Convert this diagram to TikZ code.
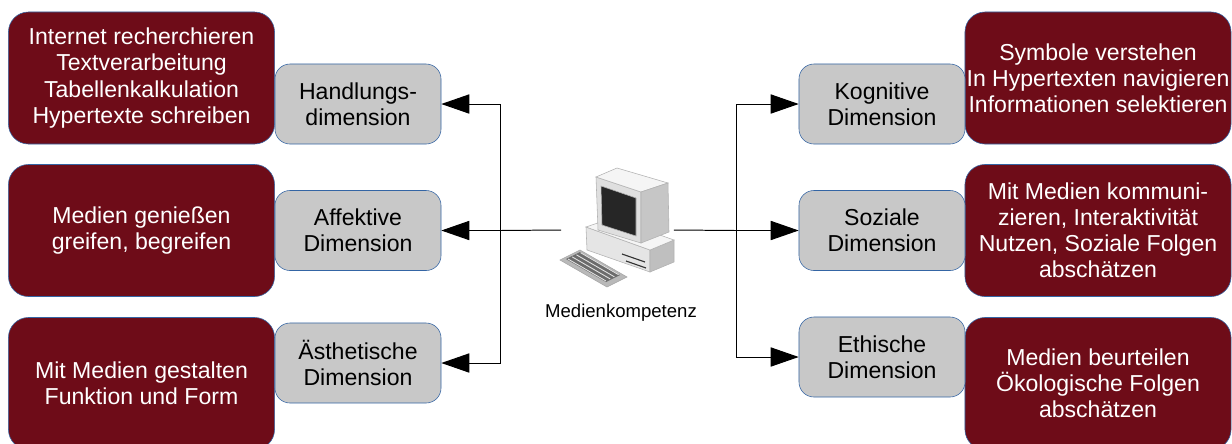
\documentclass[tikz,border=0pt]{standalone}
\usepackage{fontspec}
\setmainfont{Liberation Sans}
\usepackage{tikz}
\usetikzlibrary{positioning,calc,arrows.meta}
\definecolor{weinrot}{HTML}{6E0C18}
\definecolor{hellgrau}{HTML}{C8C8C8}
\definecolor{rahmen}{HTML}{3465A4}
\tikzstyle{aufgabe} = [rectangle, rounded corners=0.5cm, minimum width=6.65cm, minimum height=3.3cm, inner sep=0pt, align=center, text=white, draw=rahmen, fill=weinrot, font=\fontsize{16.4}{18.6}\selectfont]
\tikzstyle{dimension} = [rectangle, rounded corners=0.375cm, minimum width=4.15cm, minimum height=2cm, inner sep=0pt, align=center, draw=rahmen, fill=hellgrau, font=\fontsize{16.4}{18.6}\selectfont]
\tikzstyle{arrow} = [line width=0.7pt,-{Triangle[length=0.7cm,width=0.48cm]}]

\begin{document}
\begin{tikzpicture}[x=0.025cm,y=-0.025cm]
        \useasboundingbox (0,0) rectangle (1232,443);
        % linke Seite
        \node[aufgabe] (thand) at (141.5,78) {Internet recherchieren\\Textverarbeitung\\Tabellenkalkulation\\Hypertexte schreiben};
        \node[aufgabe] (taffekt) at (141.5,230.5) {Medien genießen\\greifen, begreifen};
        \node[aufgabe] (taesth) at (141.5,383.5) {Mit Medien gestalten\\Funktion und Form};
        \node[dimension] (hand) at (358,104) {Handlungs-\\dimension};
        \node[dimension] (affekt) at (358,230.5) {Affektive\\Dimension};
        \node[dimension] (aesth) at (358,363) {Ästhetische\\Dimension};
        % rechte Seite
        \node[aufgabe] (tkogn) at (1098,78) {Symbole verstehen\\In Hypertexten navigieren\\Informationen selektieren};
        \node[aufgabe] (tsozial) at (1098,230.5) {Mit Medien kommuni-\\zieren, Interaktivität\\Nutzen, Soziale Folgen\\abschätzen};
        \node[aufgabe] (tethik) at (1098,383.5) {Medien beurteilen\\Ökologische Folgen\\abschätzen};
        \node[dimension] (kogn) at (882,104) {Kognitive\\Dimension};
        \node[dimension] (sozial) at (882,230.5) {Soziale\\Dimension};
        \node[dimension] (ethik) at (882,357) {Ethische\\Dimension};
        % Computer
        \node[inner sep=0pt, minimum width=2.8cm, minimum height=2.4cm] (pc) at (617.5,230) {};
        \draw[fill=gray!55, draw=gray!70] (560,260) -- (580,250) -- (627,277) -- (607,287) -- cycle;
        \draw[fill=gray!85!black, draw=none] (566,259) -- (580,252) -- (620,275) -- (606,282) -- cycle;
        \foreach \d in {0,3,6,9} \draw[white!80!gray, line width=0.6pt] (568+\d*1.4,259-\d*0.7) -- (606+\d*1.4,281-\d*0.7);
        \draw[fill=gray!20, draw=gray!60] (586,227) -- (650,250) -- (650,272) -- (587,250) -- cycle;
        \draw[fill=gray!50, draw=gray!60] (650,250) -- (674,240) -- (674,262) -- (650,272) -- cycle;
        \draw[fill=gray!8, draw=gray!60] (586,227) -- (612,218) -- (674,240) -- (650,250) -- cycle;
        \draw[black!80, line width=0.8pt] (622,254) -- (645,262);
        \draw[black!80, line width=0.8pt] (626,261) -- (646,268);
        \draw[fill=gray!25, draw=gray!60] (596,177) -- (641,192) -- (641,243) -- (598,230) -- cycle;
        \draw[fill=black!85, draw=gray!60] (601,186) -- (636,198) -- (636,236) -- (602,225) -- cycle;
        \draw[fill=gray!8, draw=gray!60] (596,177) -- (617,168) -- (668,183) -- (641,192) -- cycle;
        \draw[fill=gray!45, draw=gray!60] (641,192) -- (668,183) -- (669,232) -- (641,243) -- cycle;
        \node[font=\fontsize{13.2}{15}\selectfont] (kompetenz) at (621,313) {Medienkompetenz};
        % Verbindungen
        \coordinate (lbus) at (500,230.5);
        \coordinate (rbus) at (736,230.5);
        \draw[line width=0.7pt] (pc.west) -- (lbus);
        \draw[line width=0.7pt] (pc.east) -- (rbus);
        \draw[arrow] (lbus) |- (hand.east);
        \draw[arrow] (lbus) -- (affekt.east);
        \draw[arrow] (lbus) |- (aesth.east);
        \draw[arrow] (rbus) |- (kogn.west);
        \draw[arrow] (rbus) -- (sozial.west);
        \draw[arrow] (rbus) |- (ethik.west);
    \end{tikzpicture}
\end{document}
